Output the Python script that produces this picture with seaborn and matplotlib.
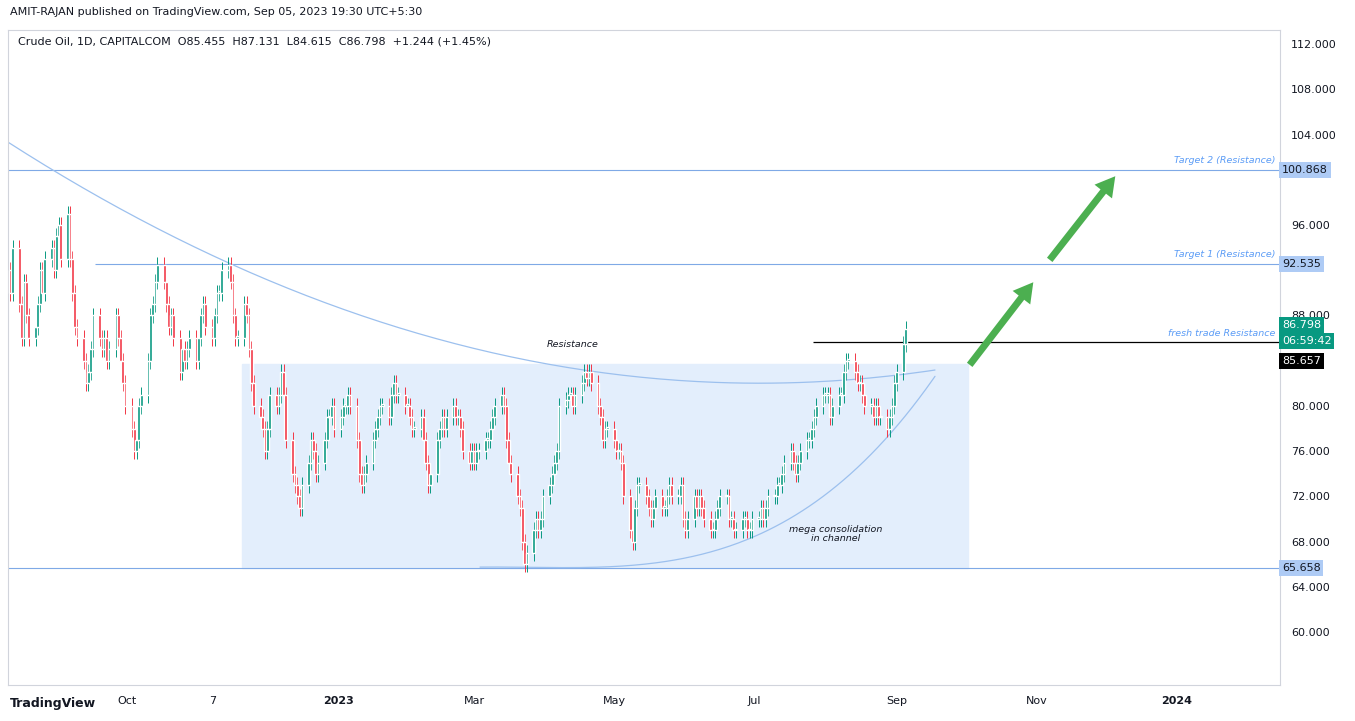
import numpy as np
import pandas as pd
import matplotlib
matplotlib.use("Agg")
import matplotlib.pyplot as plt
import matplotlib.dates as mdates
import seaborn as sns

sns.set_style("white")

# daily closes, Aug 2022 -> Sep 5 2023
closes = [90, 94, 89, 86,
    91, 88, 86, 87, 89, 92, 90, 93, 94, 92, 95, 96, 93, 97, 93, 90,
    87, 86, 84, 82, 83, 85, 88, 86, 85, 86, 84, 85, 88, 86, 84, 82, 80, 78, 76, 77, 80, 81,
    84, 88, 89, 91, 92.5, 91, 89, 87, 88, 86, 83, 85, 84, 85, 86, 84, 86, 88, 89, 87, 86,
    88, 90, 90, 92, 92.5, 91, 88, 86, 86, 89, 88, 85, 82, 80, 79, 78, 76, 78, 81, 80, 81, 83,
    81, 77, 74, 73, 72, 71, 73, 75, 77, 76, 74, 75, 77, 79, 79, 80, 78, 79, 80, 80, 81, 80,
    77, 74, 73, 74, 75, 77, 78, 79, 80, 80, 79, 81, 82, 81, 81, 80, 80, 79, 78, 78, 79,
    77, 75, 73, 74, 77, 78, 79, 78, 79, 80, 79, 79, 78, 76, 75, 76, 75, 76, 76, 77,
    77, 78, 79, 80, 81, 80, 77, 75, 74, 72, 71, 68, 66, 67, 69, 70, 69, 70, 72, 73, 74, 75, 76,
    80, 80.5, 81, 81, 80, 81, 82, 83, 82.5, 83, 82, 80, 79, 77, 78, 78, 77, 76, 76,
    75, 72, 69, 68, 71, 73, 73, 72, 71, 70, 71, 72, 71, 71, 72, 73, 72, 72, 73, 70, 69, 70,
    72, 71, 72, 71, 70, 69, 69, 70, 71, 72, 72, 70, 70, 69, 69, 70, 70, 69, 69, 70, 70, 71,
    70, 71, 72, 72, 73, 73, 74, 75, 76, 75, 74, 75, 76, 77, 77, 78, 79, 80, 81, 81,
    81, 79, 80, 81, 81, 83, 84, 84, 83, 82, 82, 81, 80, 80, 79, 80, 79, 79, 78, 79, 80, 82, 83,
    85.5, 86.8]
first_open = 92
wick = 0.7

levels = [100.868, 92.535, 85.657, 65.658]
last_price = 86.798
box_lo, box_hi = 65.67, 83.7

dates = pd.bdate_range(end="2023-09-05", periods=len(closes))
opens = [first_open] + closes[:-1]
df = pd.DataFrame({"date": dates, "open": opens, "close": closes})
df["high"] = df[["open", "close"]].max(axis=1) + wick
df["low"] = df[["open", "close"]].min(axis=1) - wick
df["up"] = df["close"] >= df["open"]
df["x"] = mdates.date2num(df["date"])

W, H = 1355, 721
fig = plt.figure(figsize=(W / 100, H / 100), dpi=100)
ax = fig.add_axes([8 / W, 36 / H, 1272 / W, 655 / H])

green, red = "#089981", "#f23645"
x0 = mdates.date2num(pd.Timestamp("2022-08-10"))
x1 = mdates.date2num(pd.Timestamp("2024-02-15"))
ax.set_xlim(x0, x1)
ax.set_ylim(55.33, 113.24)

def px2x(px):
    return x0 + (px - 8) / 1272 * (x1 - x0)

def py2y(py):
    return 112 - (py - 44) / 11.31

# consolidation box
ax.axvspan(px2x(242), px2x(968), ymin=(box_lo - 55.33) / 57.91, ymax=(box_hi - 55.33) / 57.91,
           color="#e3eefc", zorder=0)

# levels
lc = "#7fa9e6"
ax.axhline(levels[0], color=lc, lw=0.8)
ax.hlines(levels[1], px2x(95), x1, color=lc, lw=0.8)
ax.axhline(levels[3], color=lc, lw=0.8)
ax.hlines(levels[2], px2x(813), x1, color="black", lw=0.9)

# arcs
ux = np.array([8, 300, 570, 740, 935])
uy = np.array([143, 290, 372, 381, 370])
cu = np.polyfit(ux, uy, 2)
xs = np.linspace(8, 935, 200)
ax.plot(px2x(xs), py2y(np.polyval(cu, xs)), color="#9cc0ee", lw=0.9)
lx = np.array([480, 560, 650, 750, 850, 935])
ly = np.array([566, 570, 563, 535, 478, 375])
cl = np.polyfit(lx, ly, 3)
xs = np.linspace(480, 935, 200)
ax.plot(px2x(xs), py2y(np.polyval(cl, xs)), color="#9cc0ee", lw=0.9)

# candles
cols = np.where(df["up"], green, red)
ax.vlines(df["x"], df["low"], df["high"], colors=cols, lw=0.7, zorder=3)
ax.bar(df["x"], (df["close"] - df["open"]).abs().clip(lower=0.15),
       bottom=df[["open", "close"]].min(axis=1), width=1.2, color=cols, zorder=4)

# arrows
for (a, b), (c, d) in [((968, 367), (1035, 280)), ((1048, 262), (1117, 174))]:
    ax.annotate("", xy=(px2x(c), py2y(d)), xytext=(px2x(a), py2y(b)),
                arrowprops=dict(arrowstyle="simple,head_width=1.6,head_length=1.4,tail_width=0.5",
                                color="#4caf50", lw=0), zorder=5)

# texts
it = dict(style="italic", fontsize=6.8)
ax.text(px2x(1275), 100.868 + 0.45, "Target 2 (Resistance)", ha="right", va="bottom", color="#5b9cf6", **it)
ax.text(px2x(1275), 92.535 + 0.45, "Target 1 (Resistance)", ha="right", va="bottom", color="#5b9cf6", **it)
ax.text(px2x(1275), py2y(333), "fresh trade Resistance", ha="right", va="center", color="#5b9cf6", **it)
ax.text(px2x(573), py2y(344), "Resistance", ha="center", va="center", color="#131722", **it)
ax.text(px2x(836), py2y(534), "mega consolidation\nin channel", ha="center", va="center",
        color="#131722", linespacing=1.1, **it)

# axes (labels hidden by price tags are left out)
ax.yaxis.tick_right()
yt = [v for v in range(60, 113, 4) if v not in (84, 92, 100)]
ax.set_yticks(yt)
ax.set_yticklabels([f"{v:.3f}" for v in yt], fontsize=8, color="#131722")
xt = ["2022-10-01", "2022-11-07", "2023-01-01", "2023-03-01", "2023-05-01", "2023-07-01",
      "2023-09-01", "2023-11-01", "2024-01-01"]
xl = ["Oct", "7", "2023", "Mar", "May", "Jul", "Sep", "Nov", "2024"]
ax.set_xticks(mdates.date2num(pd.to_datetime(xt)))
ax.set_xticklabels(xl, fontsize=8, color="#131722")
for t in ax.get_xticklabels():
    if t.get_text() in ("2023", "2024"):
        t.set_fontweight("bold")
ax.tick_params(length=0, pad=8)
for s in ax.spines.values():
    s.set_color("#d1d4dc")
    s.set_linewidth(0.8)

# right-axis price tags
def tag(y, txt, bg, fg, dy=0):
    ax.text(1.0015, y + dy, txt, transform=ax.get_yaxis_transform(), ha="left", va="center",
            fontsize=8, color=fg, bbox=dict(boxstyle="square,pad=0.25", fc=bg, ec="none"), zorder=10)

tag(100.868, "100.868", "#aecbf5", "#131722")
tag(92.535, "92.535", "#aecbf5", "#131722")
tag(last_price, "86.798", green, "white", dy=0.35)
tag(last_price, "06:59:42", green, "white", dy=-1.05)
tag(85.657, "85.657", "black", "white", dy=-1.7)
tag(65.658, "65.658", "#aecbf5", "#131722")

fig.text(10 / W, 1 - 12 / H, "AMIT-RAJAN published on TradingView.com, Sep 05, 2023 19:30 UTC+5:30",
         fontsize=8, va="center", color="#131722")
fig.text(18 / W, 1 - 41 / H, "Crude Oil, 1D, CAPITALCOM  O85.455  H87.131  L84.615  C86.798  +1.244 (+1.45%)",
         fontsize=8, va="center", color="#131722")
fig.text(10 / W, 1 - 703 / H, "TradingView", fontsize=9, fontweight="bold", va="center", color="#131722")

fig.savefig("out.png", dpi=100, facecolor="white")
